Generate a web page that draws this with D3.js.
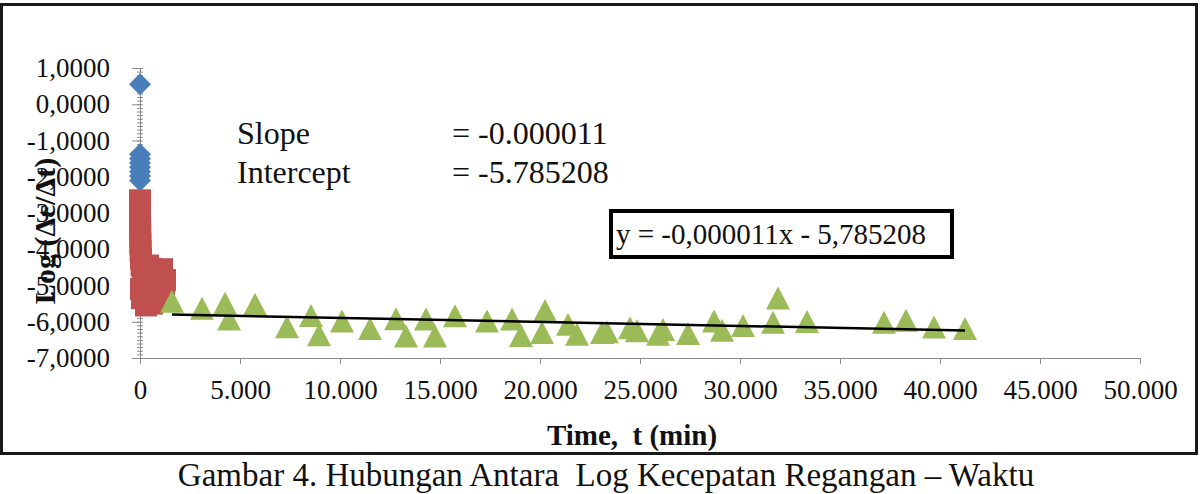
<!DOCTYPE html>
<html>
<head>
<meta charset="utf-8">
<script src="https://cdn.jsdelivr.net/npm/d3@7"></script>
<style>
  body { margin: 0; background: #fff; }
  svg { display: block; font-family: "Liberation Serif", "Times New Roman", serif; }
  text { white-space: pre; }
</style>
</head>
<body>
<figure id="chart" style="margin:0"></figure>
<script>
// series 1 (blue diamonds): time [min], log strain rate
const blueT = [0, 0, 0, 0, 0, 0, 0, 0];
const blueV = [0.55, -1.38, -1.5, -1.62, -1.74, -1.86, -1.98, -2.1];

// series 2 (red squares)
const redT = [0, 0, 0, 0, 10, 10, 20, 30, 50, 80, 150, 400, 600, 800, 1100, 1250, 1200, 900, 500, 200, 50, 100, 300, 600, 900];
const redV = [-2.65, -2.85, -3.05, -3.25, -3.45, -3.65, -3.85, -4.05, -4.25, -4.45, -4.6, -4.45, -4.55, -4.75, -4.55, -4.85, -5.1, -5.2, -5.0, -4.9, -5.1, -5.35, -5.55, -5.5, -5.4];

// series 3 (green triangles)
const greenT = [1600, 3100, 4250, 4450, 5750, 7350, 8550, 8950, 10100, 11500, 12800, 13300, 14300, 14750, 15750,
  17350, 18600, 19050, 20250, 20100, 21400, 21850, 23100, 23350, 24500, 24850, 25900, 26150, 27400, 28700,
  29100, 30150, 31650, 31900, 33350, 37200, 38300, 39700, 41250];
const greenV = [-5.45, -5.64, -5.5, -5.94, -5.53, -6.15, -5.84, -6.37, -5.99, -6.2, -5.93, -6.41, -5.94, -6.41, -5.85,
  -5.99, -5.94, -6.39, -5.7, -6.31, -6.08, -6.36, -6.31, -6.29, -6.18, -6.26, -6.36, -6.23, -6.34, -5.99,
  -6.25, -6.12, -6.03, -5.36, -6.01, -6.03, -5.97, -6.16, -6.2];

// linear fit on series 3
const slope = -0.000011;
const intercept = -5.785208;

const xTicks = [0, 5000, 10000, 15000, 20000, 25000, 30000, 35000, 40000, 45000, 50000];
const yTicks = [-7, -6, -5, -4, -3, -2, -1, 0, 1];

const width = 1200, height = 494;

const loc = d3.formatLocale({ decimal: ",", thousands: ".", grouping: [3], currency: ["", ""], minus: "-" });

const svg = d3.select("#chart").append("svg")
  .attr("width", width)
  .attr("height", height);

svg.append("rect").attr("width", width).attr("height", height).attr("fill", "#fff");

// chart frame
svg.append("rect")
  .attr("x", 1.5).attr("y", 4.5)
  .attr("width", 1195).attr("height", 449)
  .attr("fill", "none")
  .attr("stroke", "#1a1a1a")
  .attr("stroke-width", 3);

const x = d3.scaleLinear().domain([0, 50000]).range([140, 1140]);
const y = d3.scaleLinear().domain([-7, 1]).range([358, 68]);

const axisColor = "#8c8c8c";

// minor ticks on the y axis
const minor = d3.range(-7, 1.0001, 0.1);
[3, -3].forEach(s => {
  svg.append("g")
    .attr("transform", "translate(140,0)")
    .call(d3.axisLeft(y).tickValues(minor).tickSize(s).tickFormat(""))
    .call(g => g.select(".domain").remove())
    .selectAll("line").attr("stroke", axisColor);
});

const yAxis = svg.append("g")
  .attr("transform", "translate(140,0)")
  .call(d3.axisLeft(y).tickValues(yTicks).tickSizeOuter(0).tickSize(8).tickPadding(22)
    .tickFormat(loc.format(".4f")));
yAxis.select(".domain").attr("stroke", axisColor);
yAxis.selectAll("line").attr("stroke", axisColor);
yAxis.selectAll("text").attr("font-size", 27).attr("fill", "#111").attr("font-family", "Liberation Serif");

const xAxis = svg.append("g")
  .attr("transform", "translate(0,358)")
  .call(d3.axisBottom(x).tickValues(xTicks).tickSizeOuter(0).tickSize(6).tickPadding(16)
    .tickFormat(loc.format(",")));
xAxis.select(".domain").attr("stroke", axisColor);
xAxis.selectAll("line").attr("stroke", axisColor);
xAxis.selectAll("text").attr("font-size", 27).attr("fill", "#111").attr("font-family", "Liberation Serif");

// markers
const blue = blueT.map((t, i) => [t, blueV[i]]);
const red = redT.map((t, i) => [t, redV[i]]);
const green = greenT.map((t, i) => [t, greenV[i]]);

svg.append("g").selectAll("path")
  .data(blue).enter().append("path")
  .attr("transform", d => "translate(" + x(d[0]) + "," + y(d[1]) + ")")
  .attr("d", "M0,-11L11,0L0,11L-11,0Z")
  .attr("fill", "#4a7ebb");

svg.append("g").selectAll("rect")
  .data(red).enter().append("rect")
  .attr("x", d => x(d[0]) - 11)
  .attr("y", d => y(d[1]) - 11)
  .attr("width", 22).attr("height", 22)
  .attr("fill", "#c0504d");

svg.append("g").selectAll("path")
  .data(green).enter().append("path")
  .attr("transform", d => "translate(" + x(d[0]) + "," + y(d[1]) + ")")
  .attr("d", "M0,-12L12,11L-12,11Z")
  .attr("fill", "#9bbb59");

// trendline
const tMin = d3.min(greenT), tMax = d3.max(greenT);
svg.append("line")
  .attr("x1", x(tMin)).attr("y1", y(slope * tMin + intercept))
  .attr("x2", x(tMax)).attr("y2", y(slope * tMax + intercept))
  .attr("stroke", "#000")
  .attr("stroke-width", 2.5);

// annotations
const note = svg.append("g").attr("font-size", 32).attr("fill", "#111");
note.append("text").attr("x", 237).attr("y", 144).text("Slope");
note.append("text").attr("x", 452).attr("y", 144).text("= -0.000011");
note.append("text").attr("x", 237).attr("y", 183).text("Intercept");
note.append("text").attr("x", 452).attr("y", 183).text("= -5.785208");

svg.append("rect")
  .attr("x", 611).attr("y", 211)
  .attr("width", 341).attr("height", 46)
  .attr("fill", "#fff")
  .attr("stroke", "#000")
  .attr("stroke-width", 4);
svg.append("text")
  .attr("x", 616).attr("y", 244)
  .attr("font-size", 29).attr("fill", "#111")
  .text("y = -0,000011x - 5,785208");

// axis titles
svg.append("text")
  .attr("transform", "translate(55,231) rotate(-90)")
  .attr("text-anchor", "middle")
  .attr("font-size", 30).attr("font-weight", "bold").attr("fill", "#111")
  .text("Log (Δε/Δt)");

svg.append("text")
  .attr("x", 632).attr("y", 445)
  .attr("text-anchor", "middle")
  .attr("font-size", 29).attr("font-weight", "bold").attr("fill", "#111")
  .text("Time,  t (min)");

svg.append("text")
  .attr("x", 606).attr("y", 486)
  .attr("text-anchor", "middle")
  .attr("font-size", 33).attr("fill", "#111")
  .text("Gambar 4. Hubungan Antara  Log Kecepatan Regangan – Waktu");
</script>
</body>
</html>
